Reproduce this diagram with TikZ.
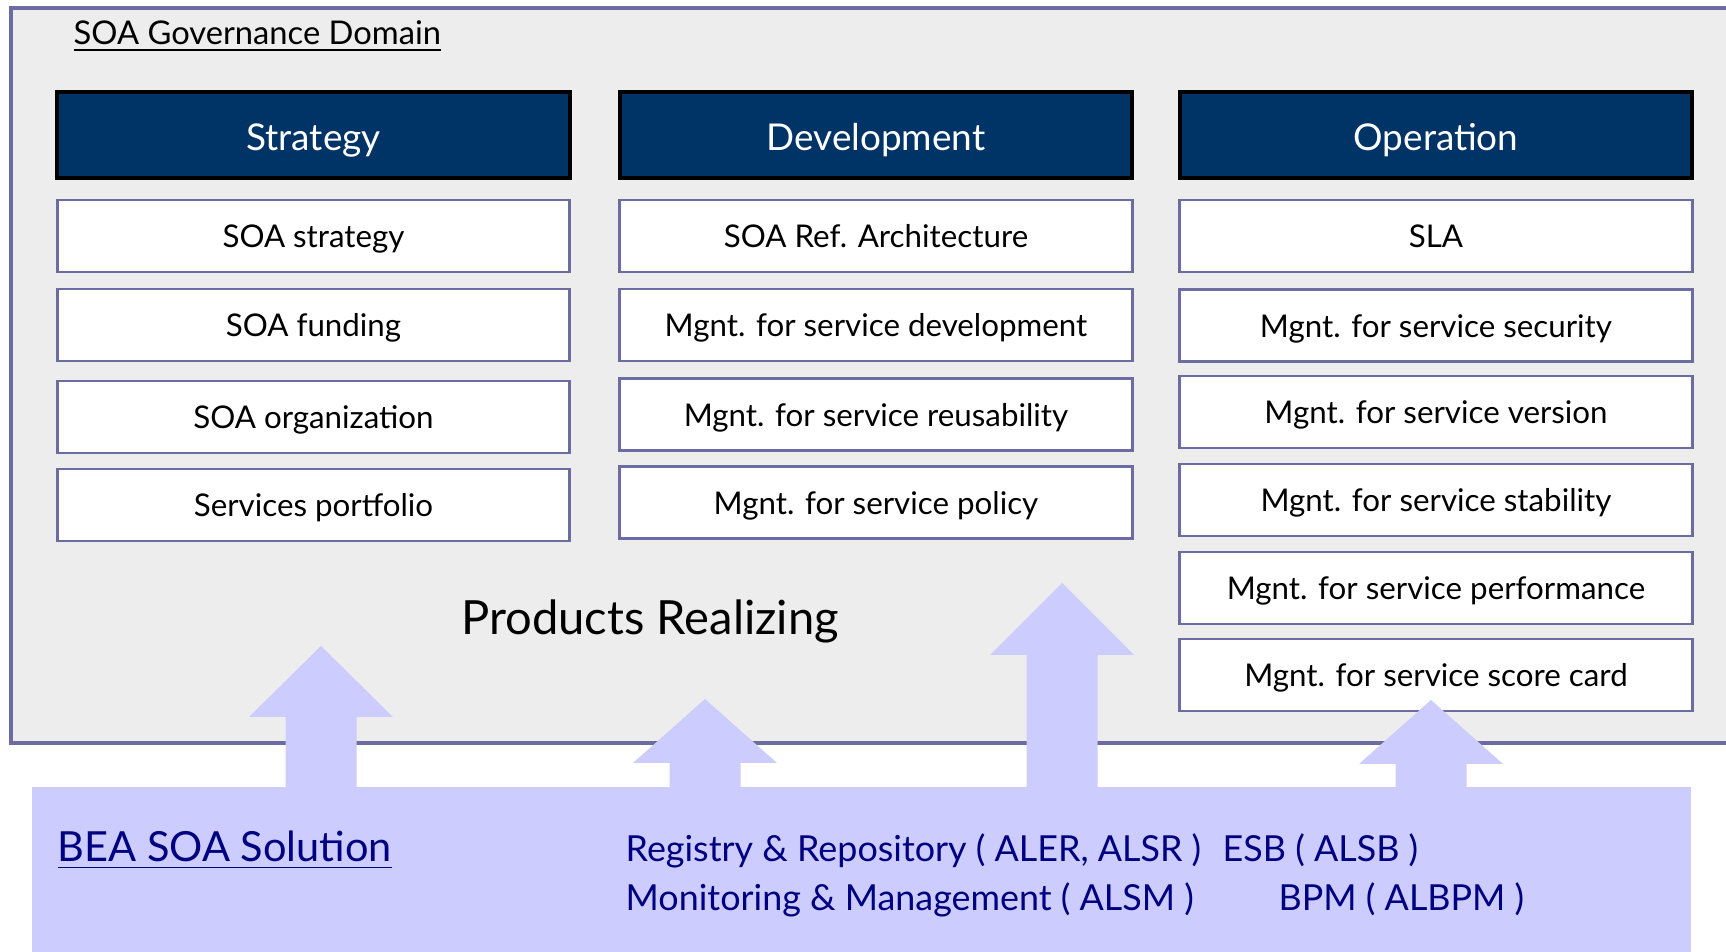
\documentclass[tikz,border=0pt]{standalone}
\usepackage{fontspec}
\setmainfont{Lato}
\usetikzlibrary{positioning}
\definecolor{navy}{HTML}{003366}
\definecolor{boxline}{HTML}{6C6CA2}
\definecolor{domain}{HTML}{EDEDED}
\definecolor{lilac}{HTML}{CCCCFF}
\definecolor{bluetext}{HTML}{000080}
\newcommand{\fsz}[1]{\fontsize{#1}{#1}\selectfont}
% block arrow: tip x, tip y, head base y, foot y
\newcommand{\blockup}[4]{\fill[lilac] (#1,#2) -- (#1+72,#3) -- (#1+35.5,#3) -- (#1+35.5,#4) -- (#1-35.5,#4) -- (#1-35.5,#3) -- (#1-72,#3) -- cycle;}
\tikzset{
  head/.style={draw=black, line width=1.1pt, fill=navy, text=white,
    minimum width=5.12cm, minimum height=0.86cm, font=\fsz{10.5},
    text height=9pt, text depth=0pt},
  item/.style={draw=boxline, line width=0.8pt, fill=white,
    minimum width=5.12cm, minimum height=0.72cm, font=\fsz{8.9},
    text height=6.8pt, text depth=0pt},
  plain/.style={inner sep=0pt, anchor=base west},
  bandtext/.style={plain, text=bluetext, font=\fsz{10.2}},
}
\begin{document}
\begin{tikzpicture}[x=0.01cm,y=-0.01cm]
\useasboundingbox[fill=white] (0,0) rectangle (1726,952);
% governance domain
\draw[boxline, line width=0.9pt, fill=domain] (11,8) rectangle (1740,743);
\node[plain, font=\fsz{9.3}] (title) at (73,45) {\underline{SOA Governance Domain}};

\node[head] (strategy) at (313.5,135) {Strategy};
\node[head] (devel) at (876,135) {Development};
\node[head] (oper) at (1436,135) {Operation};

\node[item] (s1) at (313.5,236) {SOA strategy};
\node[item] (s2) at (313.5,325) {SOA funding};
\node[item] (s3) at (313.5,417) {SOA organization};
\node[item] (s4) at (313.5,505) {Services portfolio};

\node[item] (d1) at (876,236) {SOA Ref. Architecture};
\node[item] (d2) at (876,325) {Mgnt. for service development};
\node[item] (d3) at (876,414.5) {Mgnt. for service reusability};
\node[item] (d4) at (876,502.5) {Mgnt. for service policy};

\node[item] (o1) at (1436,236) {SLA};
\node[item] (o2) at (1436,325.5) {Mgnt. for service security};
\node[item] (o3) at (1436,412) {Mgnt. for service version};
\node[item] (o4) at (1436,500) {Mgnt. for service stability};
\node[item] (o5) at (1436,588) {Mgnt. for service performance};
\node[item] (o6) at (1436,675) {Mgnt. for service score card};

\node[inner sep=0pt, anchor=base, font=\fsz{13.4}] (realize) at (650,635) {Products Realizing};

% BEA products band
\fill[lilac] (32,787) rectangle (1691,960);
\blockup{321}{646}{717}{790}
\blockup{705}{699}{763}{790}
\blockup{1062}{583}{655}{790}
\blockup{1431}{700}{764}{790}

\node[bandtext, font=\fsz{11.8}] (bea) at (57,862) {\underline{BEA SOA Solution}};
\node[bandtext] (reg) at (625,862) {Registry \& Repository ( ALER, ALSR )};
\node[bandtext] (esb) at (1222,862) {ESB ( ALSB )};
\node[bandtext] (mon) at (625,911) {Monitoring \& Management ( ALSM )};
\node[bandtext] (bpm) at (1278,911) {BPM ( ALBPM )};
\end{tikzpicture}
\end{document}
